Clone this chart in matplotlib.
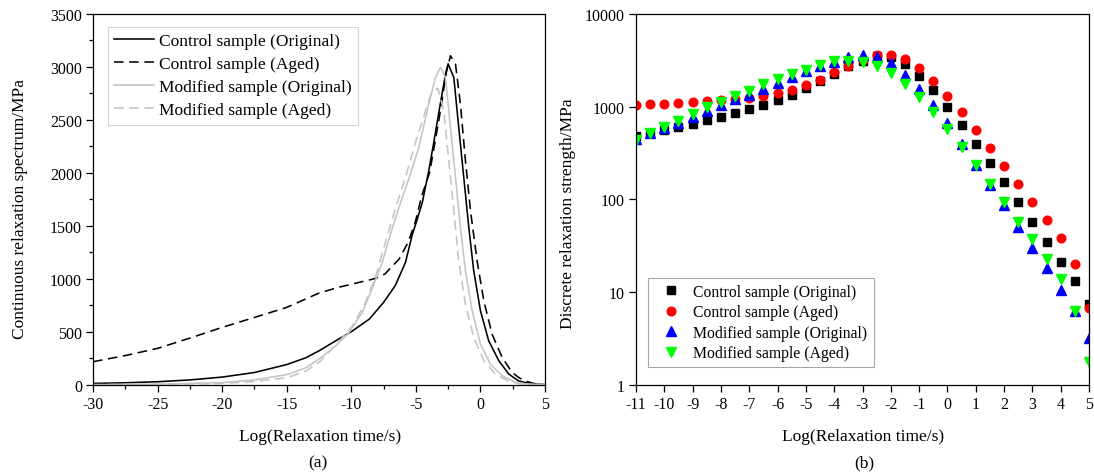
import numpy as np
import matplotlib
matplotlib.use('Agg')
import matplotlib.pyplot as plt
from matplotlib.ticker import MultipleLocator, FixedLocator, FixedFormatter, NullLocator

plt.rcParams['font.family'] = ['Liberation Serif', 'DejaVu Serif']
plt.rcParams['axes.unicode_minus'] = False

# (a) continuous relaxation spectrum
ctrl_orig_x = [-30, -27.5, -25, -22.5, -20, -17.5, -15, -13.5, -12.5, -11.2, -10, -8.6, -7.5, -6.6,
               -5.8, -5.3, -4.9, -4.5, -4.0, -3.6, -3.2, -2.7, -2.5, -2.06, -1.68, -1.29, -0.9,
               -0.52, 0, 0.64, 1.42, 2.19, 2.96, 3.8, 4.5, 5]
ctrl_orig_y = [12, 18, 28, 45, 72, 115, 190, 255, 320, 415, 500, 620, 777, 935,
               1155, 1407, 1560, 1720, 2020, 2296, 2587, 2933, 3030, 2900, 2430, 1957, 1485,
               1076, 699, 415, 227, 101, 35, 12, 4, 0]

ctrl_aged_x = [-30, -27.5, -25, -22.5, -20, -17.5, -15, -12.5, -11, -9.4, -8.1, -7.4, -6.3, -5.6,
               -5.05, -4.54, -3.93, -3.16, -2.64, -2.32, -1.93, -1.55, -1.16, -0.77, -0.26, 0.26,
               0.9, 1.68, 2.45, 3.0, 3.5, 4.0, 4.5, 5]
ctrl_aged_y = [217, 275, 343, 440, 541, 635, 730, 865, 919, 966, 1004, 1045, 1186, 1344,
               1533, 1784, 2005, 2540, 2949, 3106, 3027, 2650, 2115, 1643, 1171, 793,
               478, 258, 116, 65, 35, 15, 5, 0]

mod_orig_x = [-30, -25, -20, -17.5, -15, -13.5, -12.5, -11.2, -10.2, -9.15, -8.4, -7.6, -6.85, -6.1,
              -5.5, -4.77, -4.0, -3.48, -3.09, -2.71, -2.32, -1.93, -1.55, -1.16, -0.64, 0,
              0.77, 1.68, 2.71, 3.5, 4.5, 5]
mod_orig_y = [0, 5, 20, 45, 95, 160, 242, 368, 488, 683, 903, 1155, 1470, 1750,
              1960, 2241, 2650, 2901, 2996, 2901, 2430, 1957, 1485, 1076, 699, 384,
              195, 85, 22, 8, 0, 0]

mod_aged_x = [-30, -25, -20, -17.5, -15, -13.5, -12.5, -11, -9.9, -8.9, -8.1, -7.36, -6.6, -5.8,
              -5.0, -4.25, -3.8, -3.3, -2.84, -2.45, -2.06, -1.68, -1.16, -0.52, 0.26, 1.16,
              2.19, 3.0, 4.0, 5]
mod_aged_y = [0, 3, 12, 30, 65, 130, 211, 400, 557, 777, 1029, 1344, 1658, 1960,
              2300, 2587, 2750, 2800, 2587, 2115, 1643, 1171, 762, 447, 227, 101,
              31, 10, 2, 0]

# (b) discrete relaxation strength
log_tau = np.arange(-11, 5.01, 0.5)
ctrl_orig_g = [479, 516, 565, 609, 656, 718, 780, 855, 936, 1034, 1169, 1346, 1577, 1892, 2252, 2770,
               3135, 3490, 3404, 2864, 2161, 1525, 991, 634, 395, 247, 153, 93, 57, 35, 21, 13, 7.4]
ctrl_aged_g = [1042, 1060, 1077, 1086, 1113, 1142, 1181, 1211, 1231, 1294, 1394, 1525, 1713, 1956, 2348,
               2770, 3214, 3612, 3642, 3268, 2613, 1910, 1316, 869, 565, 361, 231, 146, 94, 60, 38, 20, 6.8]
mod_orig_g = [448, 516, 583, 661, 767, 891, 1042, 1211, 1346, 1552, 1800, 2107, 2428, 2725, 3061, 3467,
              3612, 3467, 2938, 2213, 1552, 1042, 661, 395, 237, 143, 86, 50, 30, 18, 10.5, 6.2, 3.2]
mod_aged_g = [437, 516, 609, 706, 834, 984, 1133, 1294, 1489, 1756, 1992, 2252, 2508, 2818, 3084, 3135,
              3061, 2770, 2306, 1756, 1262, 869, 574, 370, 237, 146, 93, 57, 37, 23, 13.8, 6.2, 1.74]

labels = ['Control sample (Original)', 'Control sample (Aged)',
          'Modified sample (Original)', 'Modified sample (Aged)']

W, H = 1094, 477
fig = plt.figure(figsize=(W / 100, H / 100), dpi=100)
ax1 = fig.add_axes([93 / W, 1 - 385.7 / H, 452 / W, 370.7 / H])
ax2 = fig.add_axes([636 / W, 1 - 385.7 / H, 453 / W, 370.7 / H])

gray = '#c4c4c4'
lw = 1.15
ax1.plot(ctrl_orig_x, ctrl_orig_y, color='black', lw=lw, label=labels[0])
ax1.plot(ctrl_aged_x, ctrl_aged_y, color='black', lw=lw, dashes=(6, 3.5), label=labels[1])
ax1.plot(mod_orig_x, mod_orig_y, color=gray, lw=lw, label=labels[2])
ax1.plot(mod_aged_x, mod_aged_y, color=gray, lw=lw, dashes=(6, 3.5), label=labels[3])
ax1.set_xlim(-30, 5)
ax1.set_ylim(0, 3500)
ax1.xaxis.set_major_locator(MultipleLocator(5))
ax1.xaxis.set_minor_locator(MultipleLocator(2.5))
ax1.yaxis.set_major_locator(MultipleLocator(500))
ax1.yaxis.set_minor_locator(MultipleLocator(250))
leg1 = ax1.legend(loc='upper left', bbox_to_anchor=(0.033, 0.965), fontsize=12.5, frameon=True,
                  fancybox=False, edgecolor='#c8c8c8', handlelength=2.3, handletextpad=0.3,
                  labelspacing=0.4, borderpad=0.35, borderaxespad=0)
leg1.get_frame().set_linewidth(0.8)

ax2.plot(log_tau, ctrl_orig_g, 's', color='black', ms=5.5, label=labels[0])
ax2.plot(log_tau, ctrl_aged_g, 'o', color='red', ms=6.2, label=labels[1])
ax2.plot(log_tau, mod_orig_g, '^', color='blue', ms=6.5, label=labels[2])
ax2.plot(log_tau, mod_aged_g, 'v', color='#00ff00', ms=6.5, label=labels[3])
ax2.set_yscale('log')
ax2.set_xlim(-11, 5)
ax2.set_ylim(1, 10000)
ax2.xaxis.set_major_locator(MultipleLocator(1))
ax2.yaxis.set_major_locator(FixedLocator([1, 10, 100, 1000, 10000]))
ax2.yaxis.set_major_formatter(FixedFormatter(['1', '10', '100', '1000', '10000']))
ax2.yaxis.set_minor_locator(NullLocator())
leg2 = ax2.legend(loc='lower left', bbox_to_anchor=(0.026, 0.047), fontsize=11.3, frameon=True,
                  fancybox=False, edgecolor='#909090', handlelength=2.2, handletextpad=0.3,
                  labelspacing=0.28, borderpad=0.4, borderaxespad=0, numpoints=1)
leg2.get_frame().set_linewidth(0.8)

for ax in (ax1, ax2):
    for s in ax.spines.values():
        s.set_linewidth(0.9)
    ax.tick_params(which='major', direction='out', length=5, width=0.9, labelsize=11.5, pad=3)
    ax.tick_params(which='minor', direction='out', length=3, width=0.9)

fig.text(20 / W, 1 - 209 / H, 'Continuous relaxation spectrum/MPa', rotation=90,
         ha='center', va='center', fontsize=12.5)
fig.text(568 / W, 1 - 214 / H, 'Discrete relaxation strength/MPa', rotation=90,
         ha='center', va='center', fontsize=12.5)
fig.text(320 / W, 1 - 437 / H, 'Log(Relaxation time/s)', ha='center', va='center', fontsize=12.5)
fig.text(863 / W, 1 - 437 / H, 'Log(Relaxation time/s)', ha='center', va='center', fontsize=12.5)
fig.text(318 / W, 1 - 463 / H, '(a)', ha='center', va='center', fontsize=12.5)
fig.text(864 / W, 1 - 463 / H, '(b)', ha='center', va='center', fontsize=12.5)

fig.savefig('out.png', dpi=100)
